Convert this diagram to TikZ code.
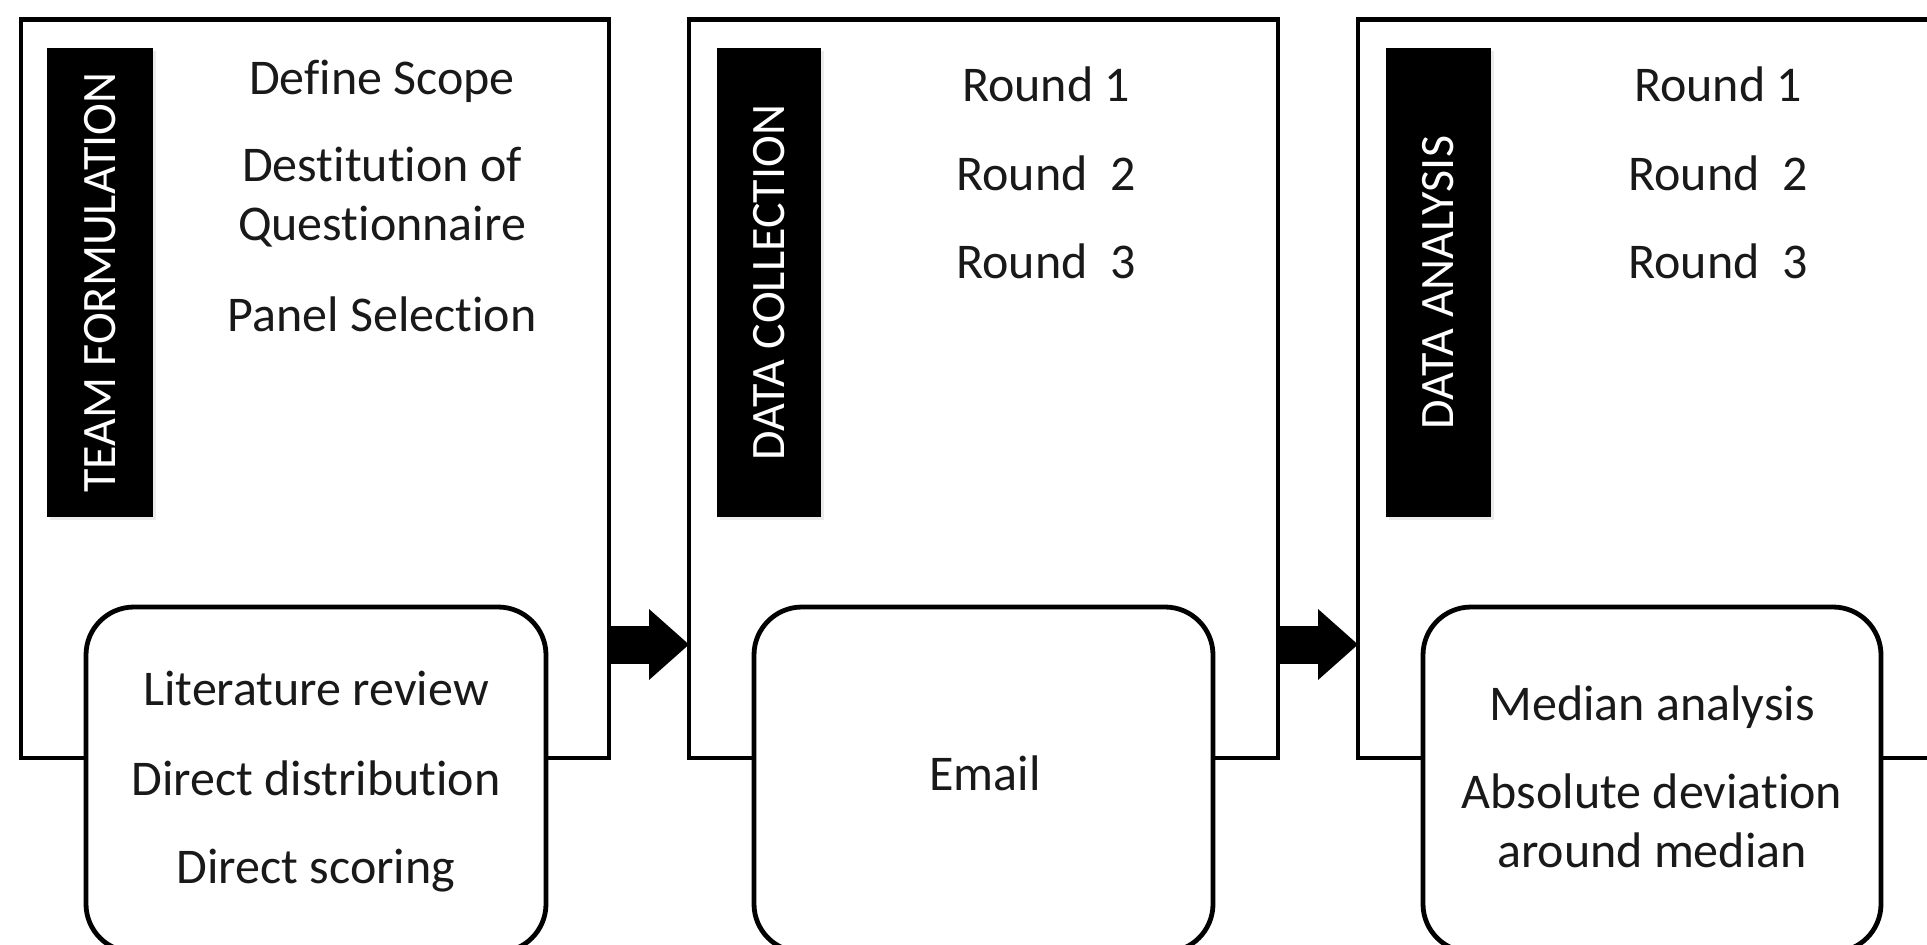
\documentclass[tikz,border=0pt]{standalone}
\usepackage{fontspec}
\setmainfont{Carlito}[Ligatures={NoCommon}]
\usetikzlibrary{fit,arrows.meta,shadows}
\begin{document}
\begin{tikzpicture}[x=0.5pt,y=-0.5pt,
  panel/.style={draw, line width=2.4pt, inner sep=0pt, outer sep=0pt},
  tag/.style={fill=black, inner sep=0pt, outer sep=0pt,
    drop shadow={shadow xshift=1.5pt, shadow yshift=-1.5pt, opacity=0.15}},
  tagtext/.style={text=white, rotate=90, font=\fontsize{24}{28}\selectfont, inner sep=0pt},
  item/.style={anchor=base, text=black!90, font=\fontsize{25}{30}\selectfont, inner sep=0pt},
  method/.style={draw, fill=white, line width=2.4pt, rounded corners=24pt, inner sep=0pt, outer sep=0pt},
  bigarrow/.style={line width=19pt, -{Triangle[length=20pt, width=35.5pt, line width=0pt]}}
]
\useasboundingbox (0,0) rectangle (1927,944);
\clip (0,0) rectangle (1927,944);
\fill[white] (0,0) rectangle (1927,944);

% panels
\node[panel, fit={(21,19.5) (609,758)}] (p1) {};
\node[panel, fit={(689,19.5) (1278,758)}] (p2) {};
\node[panel, fit={(1358,19.5) (1970,758)}] (p3) {};

% vertical tags
\node[tag, fit={(47,48) (153,517)}] (l1) {};
\node[tagtext] (t1) at (l1.center) {TEAM FORMULATION};
\node[tag, fit={(717,48) (821,517)}] (l2) {};
\node[tagtext] (t2) at (l2.center) {DATA COLLECTION};
\node[tag, fit={(1386,48) (1491,517)}] (l3) {};
\node[tagtext] (t3) at (l3.center) {DATA ANALYSIS};

% panel 1 items
\node[item] (a1) at (382,94) {Define Scope};
\node[item] (a2) at (382,181) {Destitution of};
\node[item] (a3) at (382,240) {Questionnaire};
\node[item] (a4) at (382,331) {Panel Selection};

% panel 2 items
\node[item] (c1) at (1046,101) {Round 1};
\node[item] (c2) at (1046,190) {Round~~2};
\node[item] (c3) at (1046,278) {Round~~3};

% panel 3 items
\node[item] (d1) at (1718,101) {Round 1};
\node[item] (d2) at (1718,190) {Round~~2};
\node[item] (d3) at (1718,278) {Round~~3};

% method boxes
\node[method, fit={(86,607) (546,952)}] (b1) {};
\node[method, fit={(754,607) (1213,952)}] (b2) {};
\node[method, fit={(1423,607) (1881,952)}] (b3) {};

\node[item] (m1) at (316,705) {Literature review};
\node[item] (m2) at (316,795) {Direct distribution};
\node[item] (m3) at (316,883) {Direct scoring};
\node[item] (e1) at (985,790) {Email};
\node[item] (n1) at (1652,720) {Median analysis};
\node[item] (n2) at (1652,808) {Absolute deviation};
\node[item] (n3) at (1652,867) {around median};

% arrows
\coordinate (ay) at (0,644.5);
\draw[bigarrow] (p1.east |- ay) -- (p2.west |- ay);
\draw[bigarrow] (p2.east |- ay) -- (p3.west |- ay);
\end{tikzpicture}
\end{document}
